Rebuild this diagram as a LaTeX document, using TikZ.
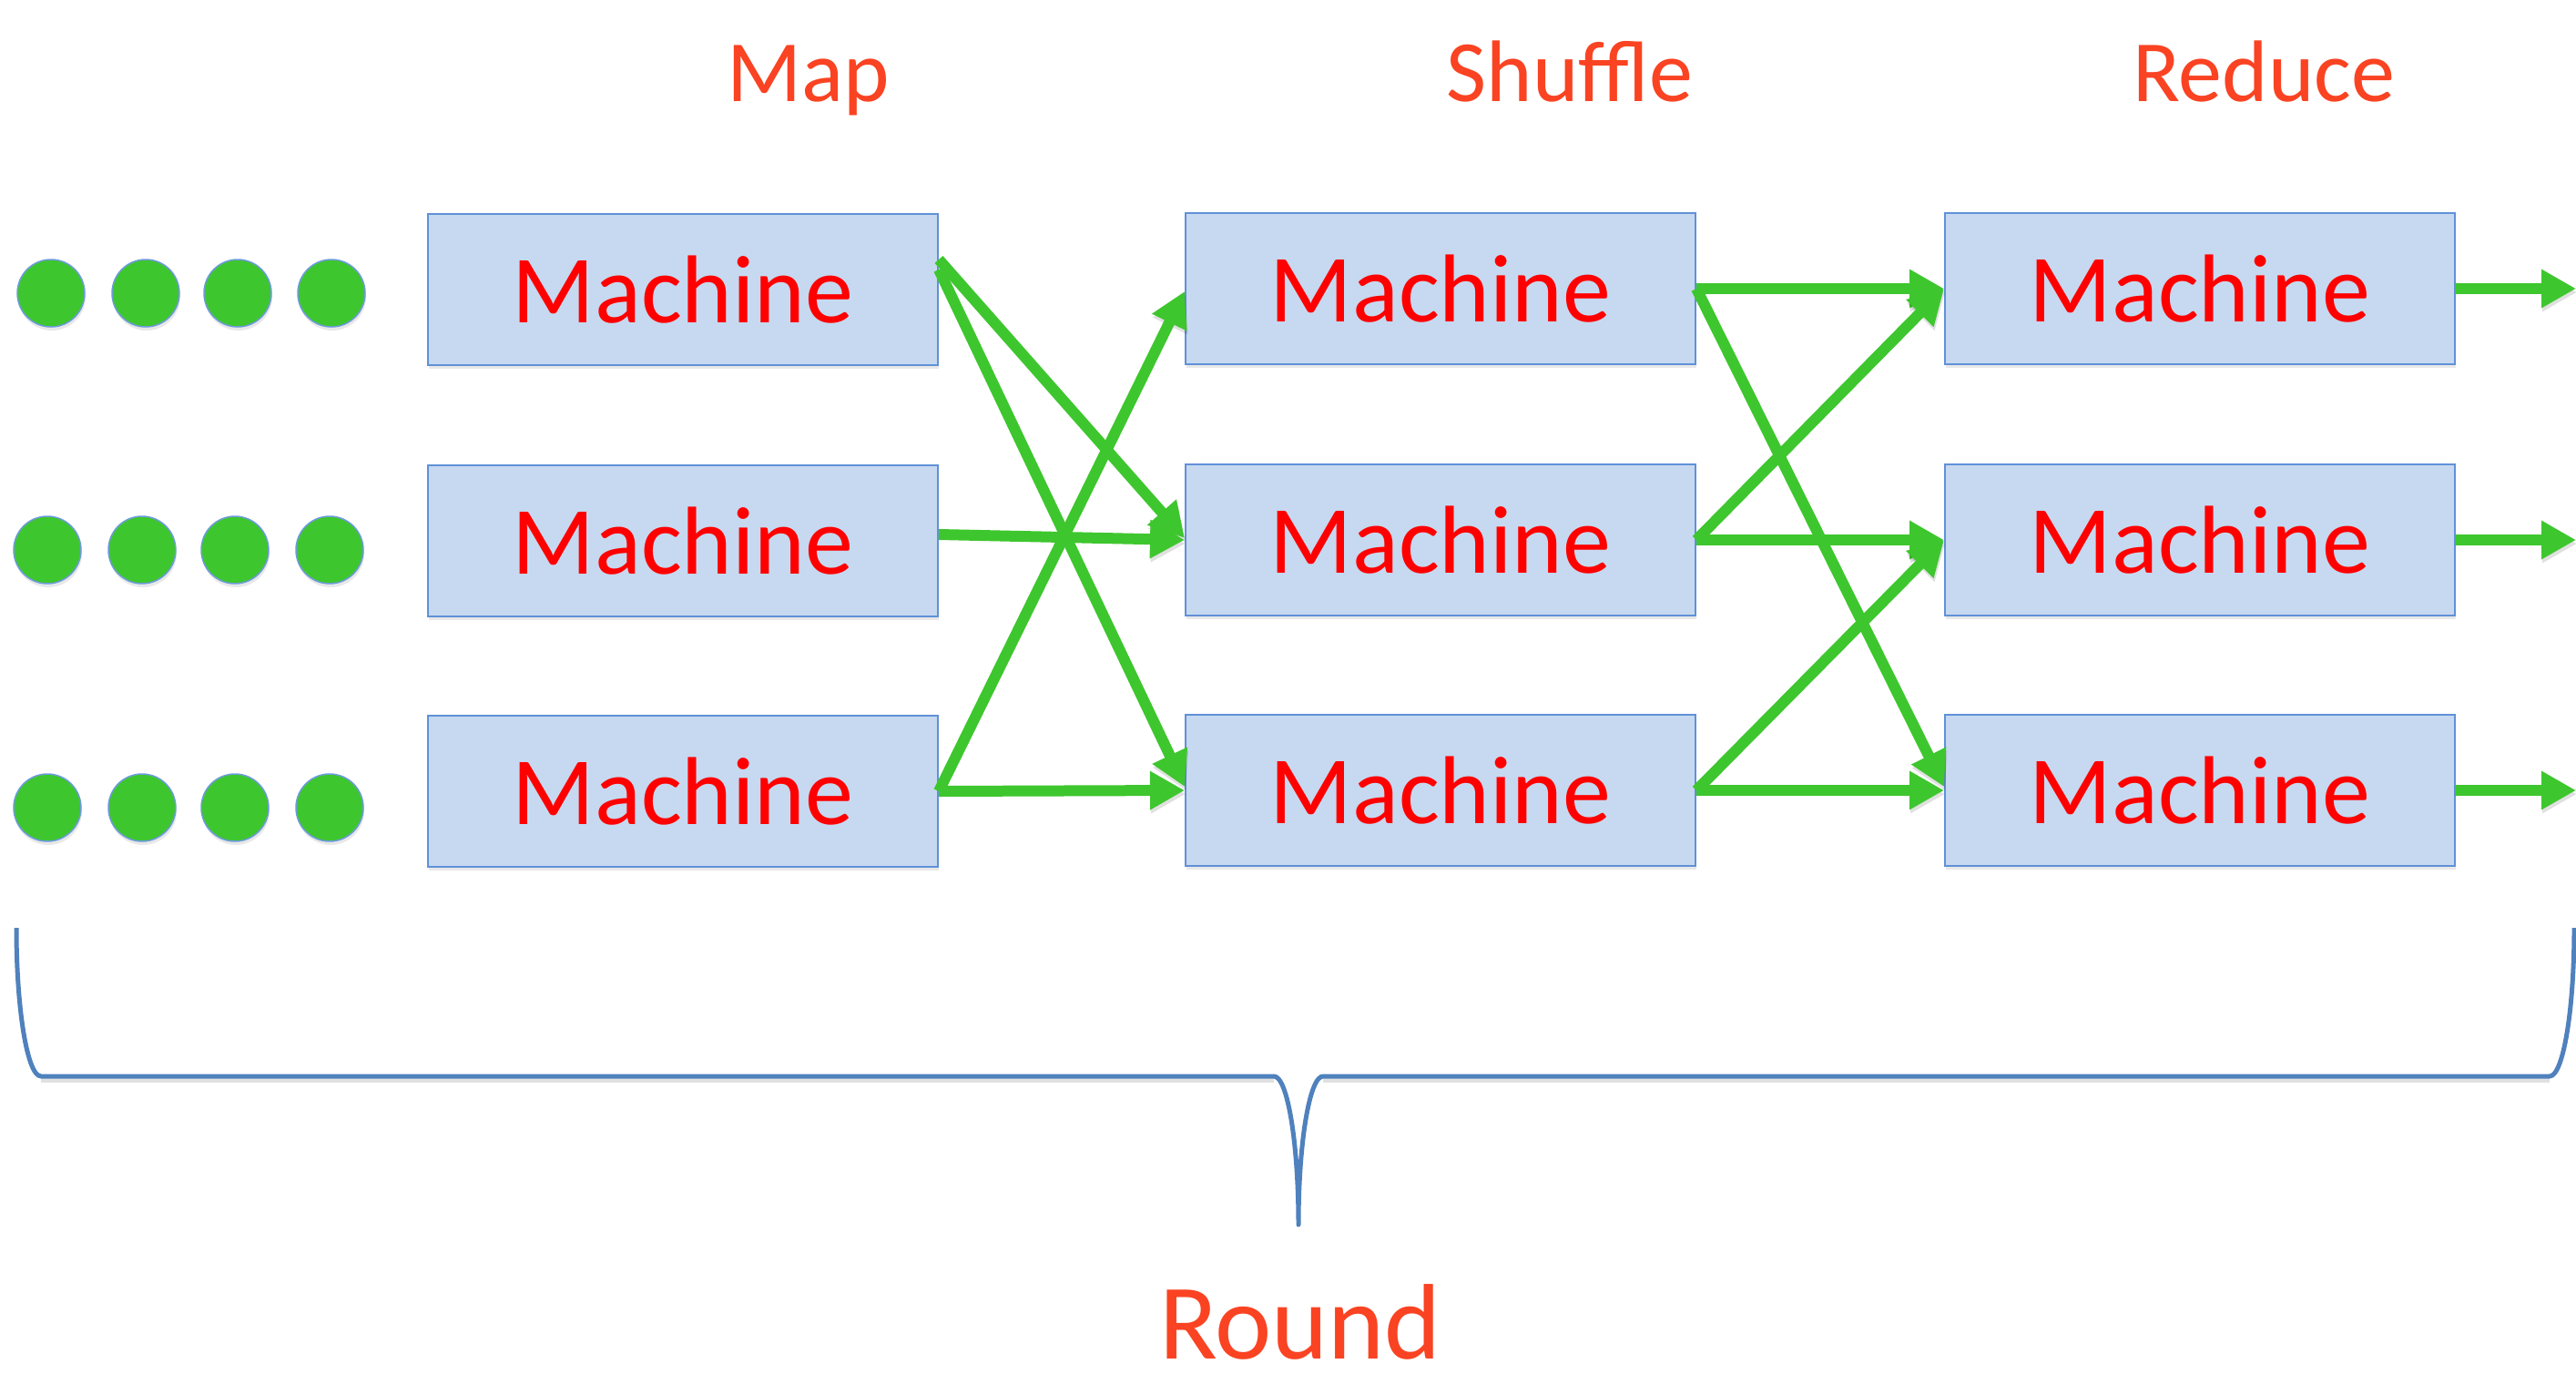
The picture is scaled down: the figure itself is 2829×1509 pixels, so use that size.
\documentclass[tikz,border=0pt]{standalone}
\usepackage{fontspec}
\setmainfont{Carlito}
\usetikzlibrary{arrows.meta,shadows}
\definecolor{boxfill}{RGB}{198,217,240}
\definecolor{boxdraw}{RGB}{96,145,216}
\definecolor{machred}{RGB}{255,0,0}
\definecolor{titlered}{RGB}{250,67,34}
\definecolor{flowgreen}{RGB}{62,198,46}
\definecolor{dotborder}{RGB}{110,155,220}
\definecolor{bracecol}{RGB}{79,129,189}
\begin{document}
\begin{tikzpicture}[x=1pt,y=-1pt,
  machine/.style={draw=boxdraw, line width=2pt, fill=boxfill,
    minimum width=560pt, minimum height=166pt, inner sep=0pt,
    text=machred, font=\fontsize{106}{110}\selectfont,
    drop shadow={shadow xshift=1pt, shadow yshift=-4pt, opacity=0.18}},
  ball/.style={circle, draw=dotborder, line width=1.5pt, fill=flowgreen,
    minimum size=74pt, inner sep=0pt,
    drop shadow={shadow xshift=1pt, shadow yshift=-4pt, opacity=0.18}},
  flow/.style={draw=flowgreen, line width=12pt,
    -{Triangle[length=38pt,width=40pt]},
    preaction={draw=black, draw opacity=0.12, fill opacity=0.12,
      transform canvas={xshift=1pt,yshift=-4pt}}},
  heading/.style={text=titlered, font=\fontsize{96}{100}\selectfont,
    anchor=base, inner sep=0pt},
  bracepath/.style={draw=bracecol, line width=5pt, line join=round}
]
\useasboundingbox (0,0) rectangle (2829,1509);

% titles
\node[heading] (tmap) at (888,112) {Map};
\node[heading] (tshuffle) at (1724,112) {Shuffle};
\node[heading] (treduce) at (2486,112) {Reduce};

% input dots
\foreach \r/\y/\xa/\xb/\xc/\xd in {1/322/56/160/261/364, 2/604/52/156/258/362, 3/887/52/156/258/362}{
  \node[ball] (d\r a) at (\xa,\y) {};
  \node[ball] (d\r b) at (\xb,\y) {};
  \node[ball] (d\r c) at (\xc,\y) {};
  \node[ball] (d\r d) at (\xd,\y) {};
}

% machines
\node[machine] (M1) at (750,318) {Machine};
\node[machine] (M2) at (750,594) {Machine};
\node[machine] (M3) at (750,869) {Machine};
\node[machine] (S1) at (1582,317) {Machine};
\node[machine] (S2) at (1582,593) {Machine};
\node[machine] (S3) at (1582,868) {Machine};
\node[machine] (R1) at (2416,317) {Machine};
\node[machine] (R2) at (2416,593) {Machine};
\node[machine] (R3) at (2416,868) {Machine};

% output ends
\coordinate (o1) at (2829,317);
\coordinate (o2) at (2829,593);
\coordinate (o3) at (2829,868);

% map -> shuffle
\draw[flow] ([yshift=33pt]M1.east) -- ([yshift=2pt]S2.west);
\draw[flow] ([yshift=22pt]M1.east) -- ([yshift=4pt]S3.west);
\draw[flow] ([yshift=7pt]M2.east) -- (S2.west);
\draw[flow] (M3.east) -- ([yshift=-3pt]S1.west);
\draw[flow] (M3.east) -- (S3.west);

% shuffle -> reduce
\draw[flow] (S1.east) -- (R1.west);
\draw[flow] (S1.east) -- ([yshift=4pt]R3.west);
\draw[flow] (S2.east) -- (R1.west);
\draw[flow] (S2.east) -- (R2.west);
\draw[flow] (S3.east) -- (R2.west);
\draw[flow] (S3.east) -- (R3.west);

% reduce -> out
\draw[flow] (R1.east) -- (o1);
\draw[flow] (R2.east) -- (o2);
\draw[flow] (R3.east) -- (o3);

% brace shadow
\draw[bracepath, draw=black, opacity=0.12, transform canvas={yshift=-4pt}]
  (45,1182) -- (1399,1182) (1453,1182) -- (2800,1182);
% brace
\draw[bracepath] (18,1019) .. controls (18,1109) and (30.1,1182) .. (45,1182)
  -- (1399,1182) .. controls (1413.9,1182) and (1426,1255) .. (1426,1345)
  .. controls (1426,1255) and (1438.1,1182) .. (1453,1182)
  -- (2800,1182) .. controls (2814.9,1182) and (2827,1109) .. (2827,1019);

\node[heading, font=\fontsize{118}{120}\selectfont] (tround) at (1428,1492) {Round};
\end{tikzpicture}
\end{document}
